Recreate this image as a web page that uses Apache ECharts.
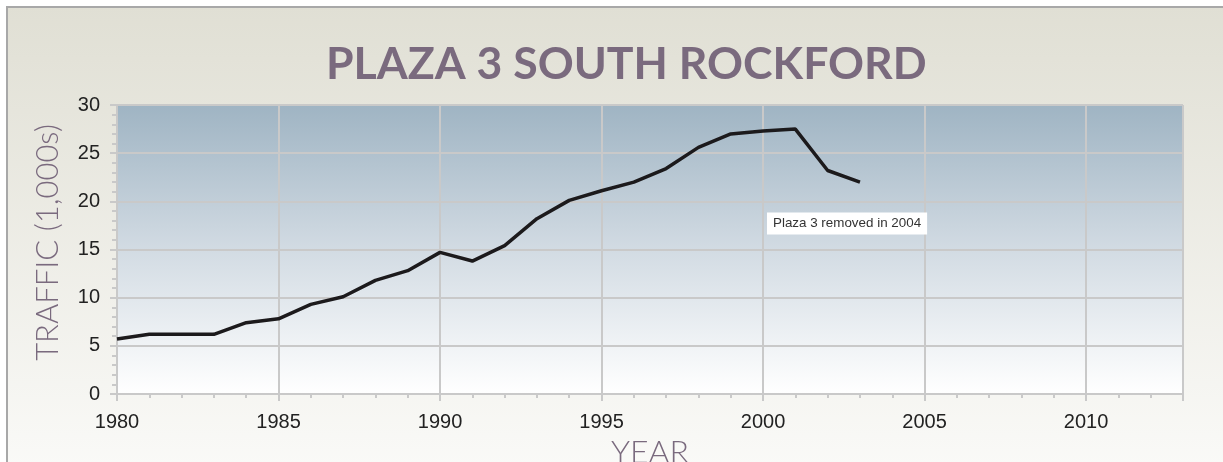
<!DOCTYPE html>
<html>
<head>
<meta charset="utf-8">
<script src="https://cdn.jsdelivr.net/npm/echarts@6/dist/echarts.min.js"></script>
<style>
  html, body { margin: 0; padding: 0; background: #fff; }
  #chart { width: 1223px; height: 462px; }
</style>
</head>
<body>
<div id="chart"></div>
<script>
// traffic counts in thousands, one per year
const years = [1980, 1981, 1982, 1983, 1984, 1985, 1986, 1987, 1988, 1989, 1990, 1991,
  1992, 1993, 1994, 1995, 1996, 1997, 1998, 1999, 2000, 2001, 2002, 2003]
const traffic = [5.7, 6.2, 6.2, 6.2, 7.4, 7.8, 9.3, 10.1, 11.8, 12.8, 14.7, 13.8,
  15.4, 18.2, 20.1, 21.1, 22.0, 23.4, 25.6, 27.0, 27.3, 27.5, 23.2, 22.0]
const note = { text: 'Plaza 3 removed in 2004', x: 2002.6, y: 17.7 }

const purple = '#7a6a7e'
const gridGrey = '#c9c9c9'

const chart = echarts.init(document.getElementById('chart'))
chart.setOption({
  backgroundColor: '#fff',
  animation: false,
  graphic: [{
    type: 'rect',
    z: -10,
    shape: { x: 7, y: 7, width: 1240, height: 480 },
    style: {
      fill: new echarts.graphic.LinearGradient(0, 0, 0, 1, [
        { offset: 0, color: '#e0dfd4' },
        { offset: 1, color: '#fbfbf9' }
      ]),
      stroke: '#a8a8a8',
      lineWidth: 2
    }
  }],
  title: {
    text: 'PLAZA 3 SOUTH ROCKFORD',
    left: 321, top: 37,
    textStyle: { fontFamily: 'Lato', fontSize: 44.6, fontWeight: 'bold', color: purple }
  },
  grid: {
    left: 117, right: 40, top: 105, bottom: 68,
    outerBoundsMode: 'none',
    show: true,
    borderWidth: 0,
    backgroundColor: new echarts.graphic.LinearGradient(0, 0, 0, 1, [
      { offset: 0, color: '#9fb4c3' },
      { offset: 0.5, color: '#d2dbe3' },
      { offset: 1, color: '#ffffff' }
    ])
  },
  xAxis: {
    type: 'value',
    min: 1980, max: 2013, interval: 5,
    name: 'YEAR',
    nameLocation: 'middle',
    nameGap: 37,
    nameTextStyle: { fontFamily: 'Lato', fontWeight: 300, fontSize: 32, color: purple },
    axisLine: { lineStyle: { color: gridGrey, width: 2 } },
    axisTick: { length: 7, lineStyle: { color: gridGrey, width: 2 } },
    minorTick: { show: true, splitNumber: 5, length: 4, lineStyle: { color: gridGrey, width: 2 } },
    axisLabel: {
      showMaxLabel: false, margin: 18,
      fontFamily: 'Liberation Sans', fontSize: 20, color: '#222',
      formatter: v => String(v)
    },
    splitLine: { show: true, lineStyle: { color: gridGrey, width: 2 } }
  },
  yAxis: {
    type: 'value',
    min: 0, max: 30, interval: 5,
    name: 'TRAFFIC (1,000s)',
    nameLocation: 'middle',
    nameRotate: 90,
    nameGap: 54,
    nameTextStyle: { fontFamily: 'Lato', fontWeight: 300, fontSize: 31, color: purple, padding: [0, 0, 0, 14] },
    axisLine: { show: true, lineStyle: { color: gridGrey, width: 2 } },
    axisTick: { show: true, length: 7, lineStyle: { color: gridGrey, width: 2 } },
    minorTick: { show: true, splitNumber: 5, length: 5, lineStyle: { color: gridGrey, width: 2 } },
    axisLabel: { margin: 17, fontFamily: 'Liberation Sans', fontSize: 20, color: '#222' },
    splitLine: { show: true, lineStyle: { color: gridGrey, width: 2 } }
  },
  series: [{
    type: 'line',
    data: years.map((y, i) => [y, traffic[i]]),
    showSymbol: false,
    lineStyle: { color: '#1c1a1c', width: 3.5 },
    markPoint: {
      symbol: 'rect', symbolSize: 1,
      itemStyle: { color: 'rgba(0,0,0,0)' },
      data: [{ coord: [note.x, note.y], value: note.text }],
      label: {
        show: true, position: 'inside',
        formatter: note.text,
        backgroundColor: '#fff',
        padding: [5, 6, 4, 6],
        fontFamily: 'Liberation Sans', fontSize: 13.4, color: '#333'
      }
    }
  }]
})
</script>
</body>
</html>
